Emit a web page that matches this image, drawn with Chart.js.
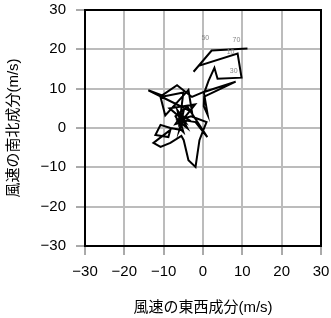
<!DOCTYPE html>
<html>
<head>
<meta charset="utf-8">
<script src="https://cdn.jsdelivr.net/npm/chart.js@4.4.0/dist/chart.umd.min.js"></script>
<style>
  html, body { margin: 0; padding: 0; background: #fff; }
  #wrap { width: 331px; height: 318px; }
</style>
</head>
<body>
<div id="wrap"><canvas id="hodo"></canvas></div>
<script>
// wind components (m/s), in drawing order
const windU = [11.3, 2.2, -2.4, -1.1, 8.8, 9.8, 3.7, 2.9, 1.4, 0.4, 8.3, 0.3, 0.2,
  1.2, 0.2, -2.8, -6.6, -10.4, -13.9, -2.8, -3.7, -9.6, -10.8, -5.0, -6.0, -2.0,
  -8.5, -5.0, -1.9, 1.1, -4.0, -7.0, -5.5, -6.5, -4.5, -6.0, -5.0, -5.5, -8.3,
  -10.8, -12.1, -8.8, -8.3, -12.6, -10.8, -8.3, -5.5, -4.9, -3.7, -1.9, -0.9,
  0.1, 0.9, -3.0, -6.5, -4.0, -5.8, -3.5, -7.0, -5.0, -6.0, -4.5];
const windV = [20.2, 19.7, 14.3, 15.8, 18.9, 12.8, 12.5, 15.3, 12.0, 9.2, 11.8, 8.0, 5.5,
  3.3, 9.2, 7.9, 10.9, 8.3, 9.6, 4.1, 9.7, 3.2, 7.9, 9.0, 1.0, 6.0,
  5.0, 2.0, 1.5, -2.3, 5.5, 3.0, 0.5, 4.5, 1.5, 2.5, -1.0, -0.5, 0.0,
  0.8, -1.8, -2.3, -0.5, -3.8, -4.8, -3.8, -2.0, -3.1, -8.2, -9.9, -3.1,
  -0.5, 1.5, 3.0, 2.0, 0.0, 3.5, 2.0, 1.0, 4.0, -0.5, 2.8];

// small level labels along the trace
const levelText = ['10', '30', '50', '70'];
const levelU = [7.0, 7.8, 0.6, 8.5];
const levelV = [19.2, 14.5, 22.9, 22.4];

const axisTicks = [-30, -20, -10, 0, 10, 20, 30];
const xTitle = '風速の東西成分(m/s)';
const yTitle = '風速の南北成分(m/s)';

const points = windU.map((u, i) => ({x: u, y: windV[i]}));

const fontFam = "'Liberation Sans', 'Noto Sans CJK JP', sans-serif";

// draws the black frame and the little level numbers
const framePlugin = {
  id: 'frame',
  afterDatasetsDraw(chart) {
    const c = chart.ctx;
    const a = chart.chartArea;
    const sx = chart.scales.x, sy = chart.scales.y;
    c.save();
    c.font = '7px ' + fontFam;
    c.fillStyle = '#888';
    c.textAlign = 'center';
    c.textBaseline = 'middle';
    for (let i = 0; i < levelText.length; i++) {
      c.fillText(levelText[i], sx.getPixelForValue(levelU[i]), sy.getPixelForValue(levelV[i]));
    }
    c.strokeStyle = '#000';
    c.lineWidth = 2;
    c.strokeRect(a.left, a.top, a.right - a.left, a.bottom - a.top);
    c.restore();
  }
};

function axis(title, isX) {
  return {
    type: 'linear',
    min: -30,
    max: 30,
    afterBuildTicks: (s) => { s.ticks = axisTicks.map(v => ({value: v})); },
    afterFit: (s) => {
      if (isX) s.height = 72; else s.width = 85;
      // labels may hang over the plot edges, the frame stays put
      s.paddingTop = 0; s.paddingBottom = 0; s.paddingLeft = 0; s.paddingRight = 0;
    },
    ticks: {
      color: '#000',
      font: {family: fontFam, size: 15},
      padding: isX ? 8 : 10,
      maxRotation: 0,
      callback: (v) => String(v).replace('-', '\u2212')
    },
    grid: {
      color: '#bcbcbc',
      lineWidth: 2,
      tickLength: 9,
      tickColor: '#555',
      tickWidth: 1
    },
    border: {display: true, color: '#000', width: 2},
    title: {
      display: true,
      text: title,
      color: '#000',
      font: {family: fontFam, size: 15},
      padding: isX ? {top: 0, bottom: 1} : {top: 5, bottom: 0}
    }
  };
}

const ctx = document.getElementById('hodo').getContext('2d');
const chart = new Chart(ctx, {
  type: 'scatter',
  data: {
    datasets: [{
      data: points,
      showLine: true,
      borderColor: '#000',
      borderWidth: 2,
      pointRadius: 0,
      tension: 0
    }]
  },
  options: {
    responsive: true,
    maintainAspectRatio: false,
    devicePixelRatio: 1,
    animation: false,
    layout: {padding: {top: 10, right: 10, left: 0, bottom: 0}},
    plugins: {legend: {display: false}, tooltip: {enabled: false}},
    scales: {
      x: axis(xTitle, true),
      y: axis(yTitle, false)
    }
  },
  plugins: [framePlugin]
});
</script>
</body>
</html>
